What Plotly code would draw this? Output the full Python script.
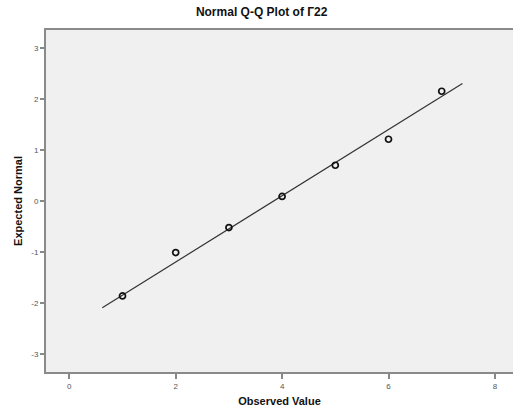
import plotly.graph_objects as go

observed = [1, 2, 3, 4, 5, 6, 7]
expected = [-1.86, -1.01, -0.52, 0.09, 0.70, 1.21, 2.15]
line_x = [0.62, 7.39]
line_y = [-2.09, 2.30]
x_ticks = [0, 2, 4, 6, 8]
y_ticks = [-3, -2, -1, 0, 1, 2, 3]
y_tick_labels = ["-3", "-2", "-1", "0", "1", "2", "3"]

fig = go.Figure()
fig.add_trace(go.Scatter(x=line_x, y=line_y, mode="lines",
                         line=dict(color="#333333", width=1.2), hoverinfo="skip"))
fig.add_trace(go.Scatter(x=observed, y=expected, mode="markers",
                         marker=dict(symbol="circle-open", size=6, color="#111111",
                                     line=dict(width=1.7, color="#111111"))))

fig.update_layout(
    width=513, height=413,
    margin=dict(l=46, r=0, t=30, b=41),
    paper_bgcolor="white", plot_bgcolor="#f0f0f0",
    showlegend=False,
    font=dict(family="Liberation Sans, Arial, sans-serif"),
    title=dict(text="<b>Normal Q-Q Plot of Г22</b>", x=0.51, xanchor="center",
               y=0.972, yanchor="middle", yref="container",
               font=dict(size=12, color="#111111")),
    xaxis=dict(range=[-0.438, 8.34], tickvals=x_ticks, showgrid=False, zeroline=False,
               showline=True, linecolor="#8a8a8a", linewidth=2, mirror=True,
               ticks="outside", ticklen=5, tickwidth=2, tickcolor="#888888",
               tickfont=dict(size=8, color="#555555"),
               title=dict(text="<b>Observed Value</b>", font=dict(size=11, color="#111111"),
                          standoff=8)),
    yaxis=dict(range=[-3.35, 3.35], tickvals=y_ticks, ticktext=y_tick_labels,
               showgrid=False, zeroline=False,
               showline=True, linecolor="#8a8a8a", linewidth=2,
               ticks="outside", ticklen=4, tickwidth=2, tickcolor="#888888",
               tickfont=dict(size=8, color="#555555"),
               title=dict(text="<b>Expected Normal</b>", font=dict(size=11, color="#111111"),
                          standoff=6)),
)

fig.write_html("out.html")
